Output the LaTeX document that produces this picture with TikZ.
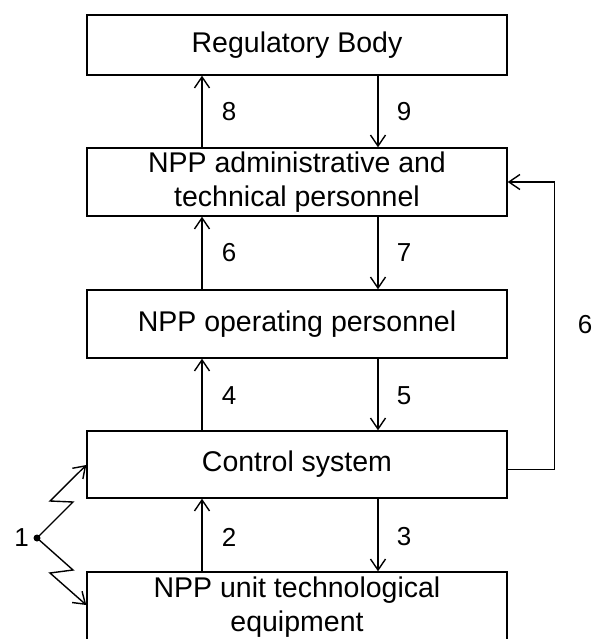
\documentclass[tikz,border=0pt]{standalone}
\usepackage{fontspec}
\setmainfont{Liberation Sans}
\usetikzlibrary{arrows.meta}

\tikzset{
    block/.style={draw, line width=1.4pt, minimum width=420pt, minimum height=68pt,
        inner sep=0pt, align=center, font=\fontsize{28.5}{34}\selectfont},
    flow/.style={line width=1.4pt, -{Straight Barb[length=11pt,width=15pt,line width=1.4pt]}},
    num/.style={font=\fontsize{26}{30}\selectfont, inner sep=0pt}
}

\begin{document}
\begin{tikzpicture}[x=1pt, y=-1pt]
    \useasboundingbox (0,0) rectangle (593,639);

    % boxes
    \node[block, minimum height=60pt] (reg) at (297,45) {Regulatory Body};
    \node[block] (adm) at (297,182) {NPP administrative and\\technical personnel};
    \node[block] (opr) at (297,324) {NPP operating personnel};
    \node[block, minimum height=67pt] (ctl) at (297,464.5) {Control system};
    \node[block, minimum height=70pt] (equ) at (297,607) {NPP unit technological\\equipment};

    \coordinate (xl) at (202,0);
    \coordinate (xr) at (378,0);

    % up and down links
    \draw[flow] (adm.north -| xl) -- (reg.south -| xl);
    \draw[flow] (reg.south -| xr) -- (adm.north -| xr);
    \draw[flow] (opr.north -| xl) -- (adm.south -| xl);
    \draw[flow] (adm.south -| xr) -- (opr.north -| xr);
    \draw[flow] (ctl.north -| xl) -- (opr.south -| xl);
    \draw[flow] (opr.south -| xr) -- (ctl.north -| xr);
    \draw[flow] (equ.north -| xl) -- (ctl.south -| xl);
    \draw[flow] (ctl.south -| xr) -- (equ.north -| xr);

    \node[num] (n8) at (229,112) {8};
    \node[num] (n9) at (404,112) {9};
    \node[num] (n6) at (229,253) {6};
    \node[num] (n7) at (404,253) {7};
    \node[num] (n4) at (229,396) {4};
    \node[num] (n5) at (404,396) {5};
    \node[num] (n2) at (229,537) {2};
    \node[num] (n3) at (404,537) {3};

    % feedback
    \draw[flow] ([yshift=-5pt]ctl.east) -- ++(47,0) |- (adm.east);
    \node[num] (fb6) at (585,325) {6};

    % disturbance
    \coordinate (src) at (37,538);
    \fill (src) circle (3.5pt);
    \node[num, anchor=east] (n1) at (29,538) {1};
    \draw[flow, line join=miter] (src) -- (73,502) -- (50,501) -- ([yshift=-0.5pt]ctl.west);
    \draw[flow, line join=miter] (src) -- (73,570) -- (50,573) -- (equ.west |- 0,605);
\end{tikzpicture}
\end{document}
